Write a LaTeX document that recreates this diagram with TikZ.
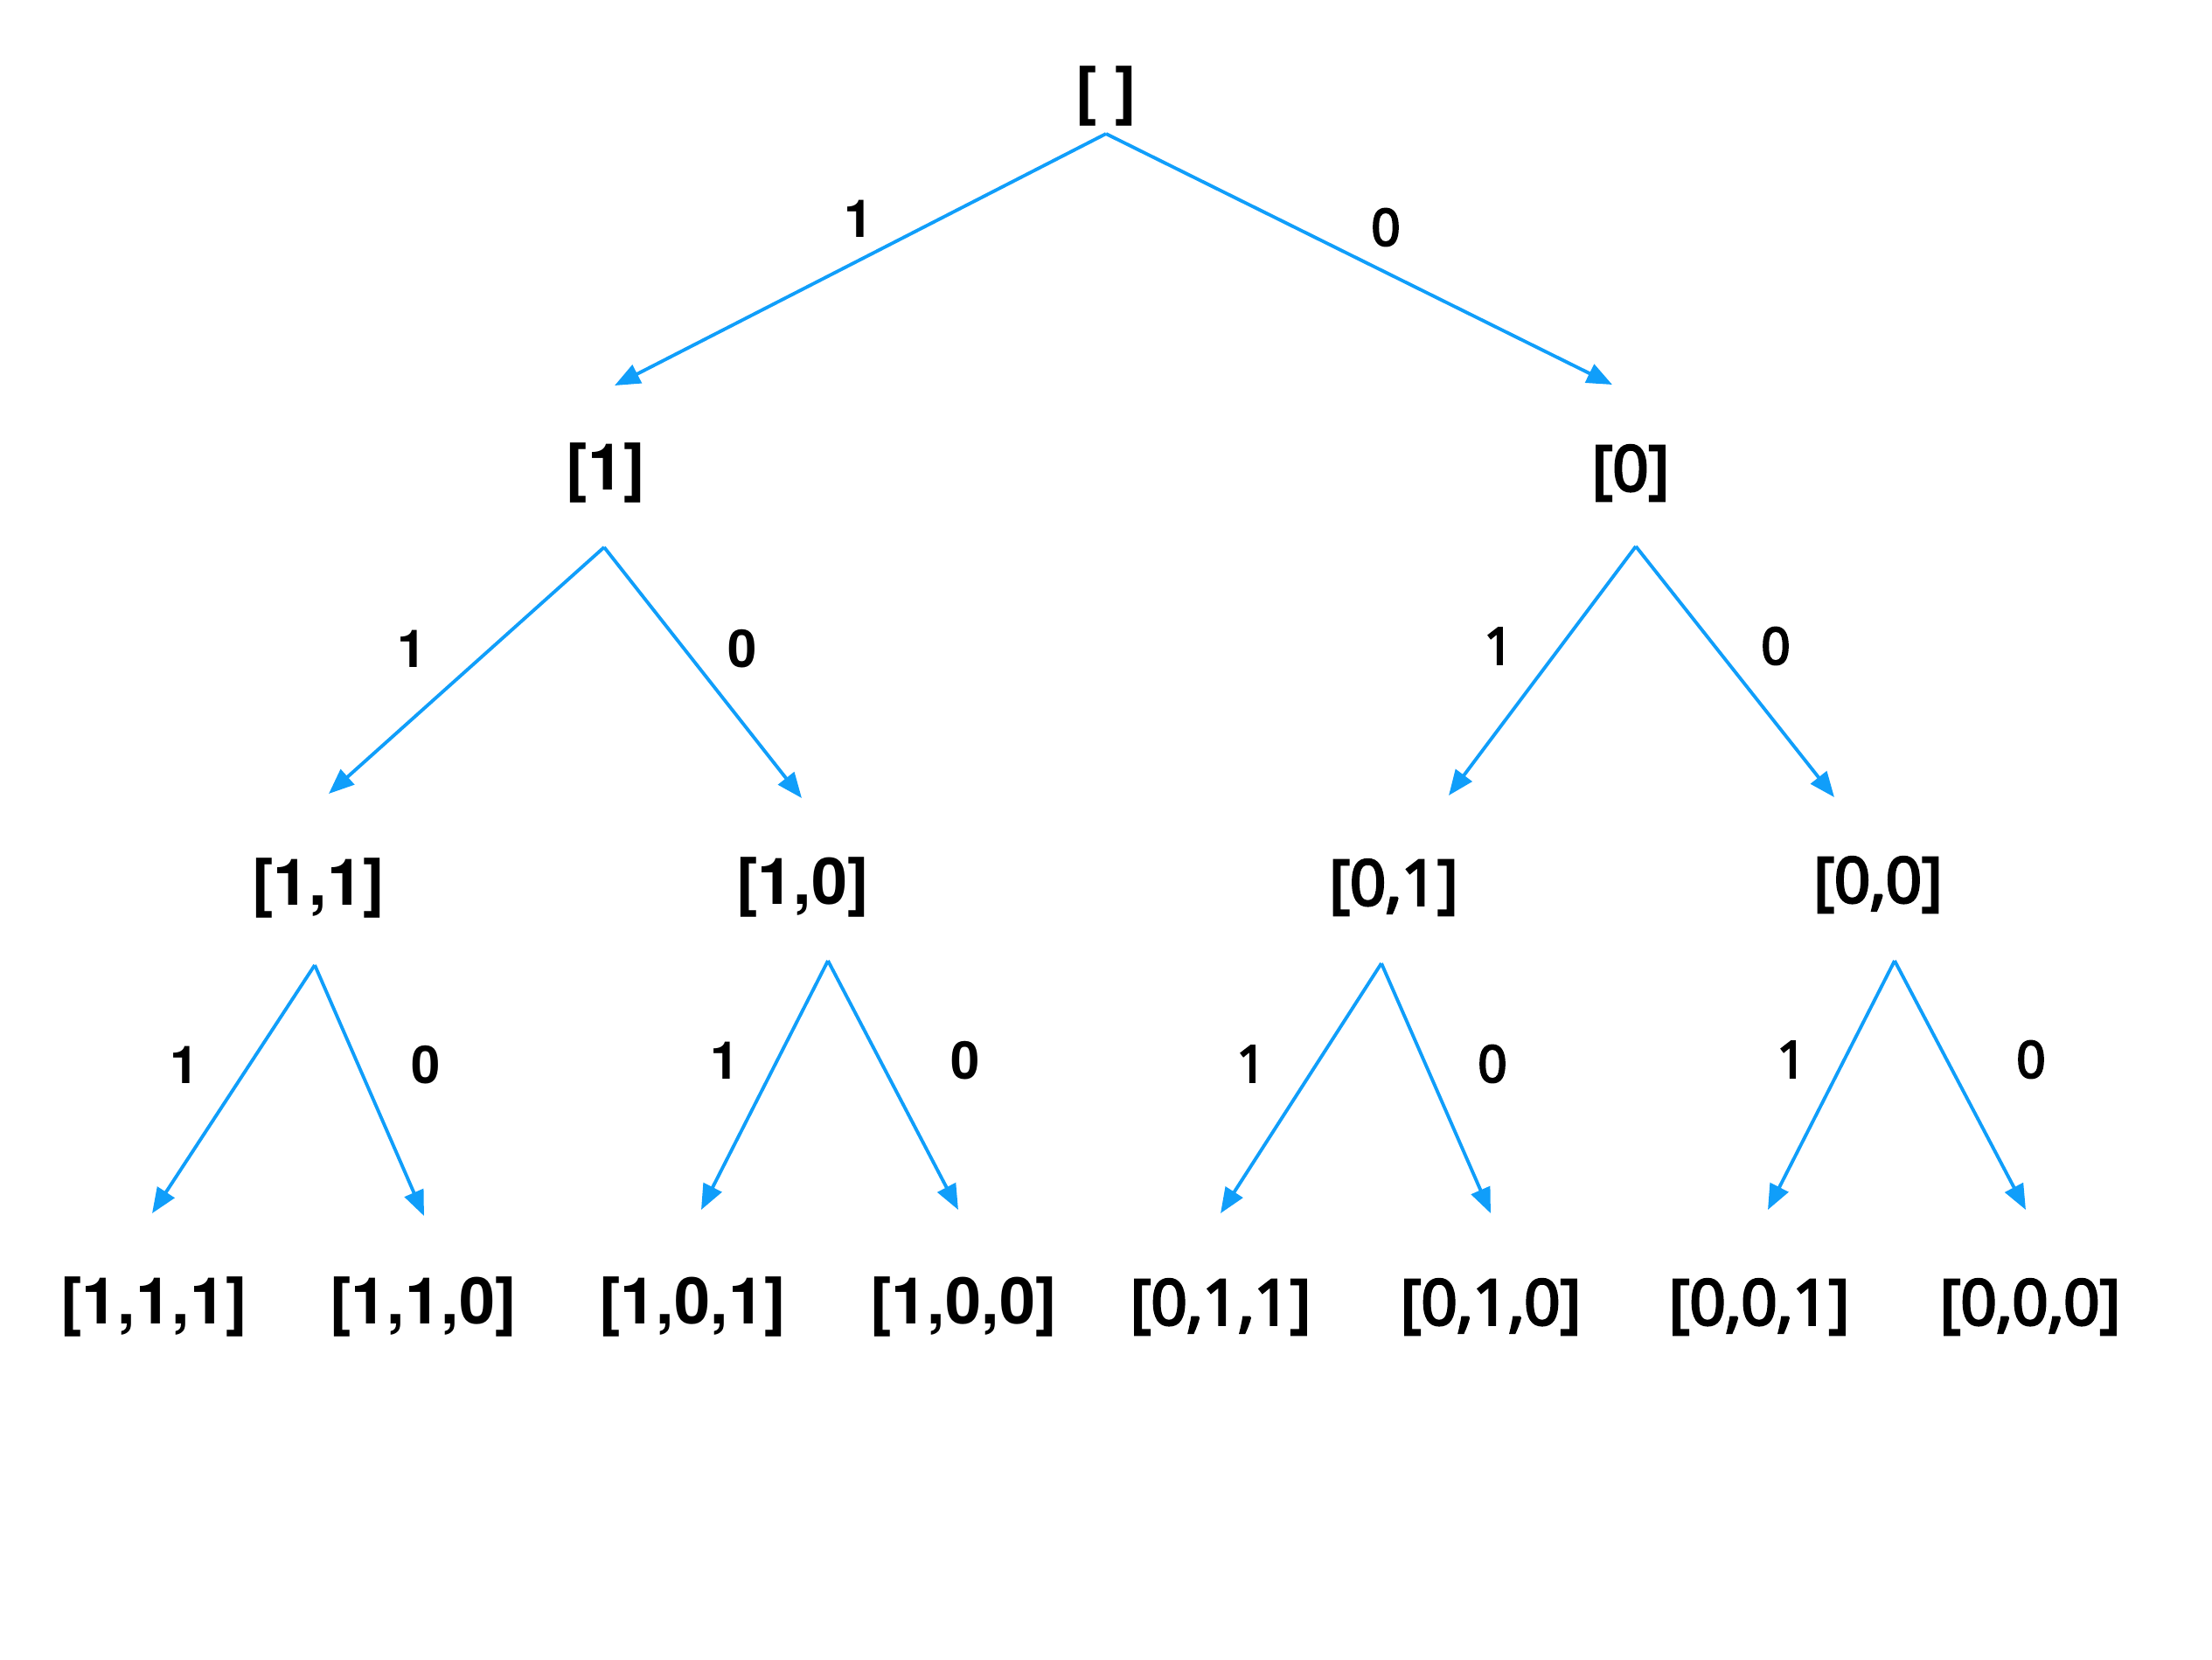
\documentclass[tikz,border=0pt]{standalone}
\usepackage{fontspec}
\setmainfont{TeX Gyre Heros}
\newfontfamily\heavyfont{TeX Gyre Heros}
\newfontfamily\lightfont{Open Sans}[UprightFeatures={FakeBold=4}]
\usetikzlibrary{arrows.meta}
\definecolor{edgeblue}{RGB}{16,158,250}
\begin{document}
\begin{tikzpicture}[
  list/.style={inner sep=0pt, font=\fontsize{21}{25}\selectfont\heavyfont\bfseries},
  listr/.style={inner sep=0pt, font=\fontsize{20.5}{25}\selectfont\lightfont},
  bit/.style={inner sep=0pt, font=\fontsize{17}{20}\selectfont\heavyfont\bfseries},
  bitr/.style={inner sep=0pt, font=\fontsize{16.5}{20}\selectfont\lightfont},
  edge/.style={draw=edgeblue, line width=1.1pt, line join=miter,
    -{Triangle[length=2.9mm, width=2.3mm]}}
]
\useasboundingbox (0,0) rectangle (25.30,-18.98);

% list nodes
\node[list]  (r)   at (12.65,-1.10) {[ ]};
\node[list]  (n1)  at (6.93,-5.41)  {[1]};
\node[listr] (n0)  at (18.65,-5.41) {[0]};
\node[list]  (n11) at (3.64,-10.16) {[1,1]};
\node[list]  (n10) at (9.18,-10.15) {[1,0]};
\node[listr] (n01) at (15.94,-10.15) {[0,1]};
\node[listr] (n00) at (21.48,-10.12) {[0,0]};
\node[list]  (n111) at (1.76,-14.95)  {[1,1,1]};
\node[list]  (n110) at (4.84,-14.95)  {[1,1,0]};
\node[list]  (n101) at (7.92,-14.95)  {[1,0,1]};
\node[list]  (n100) at (11.02,-14.95) {[1,0,0]};
\node[listr] (n011) at (13.96,-14.95) {[0,1,1]};
\node[listr] (n010) at (17.05,-14.95) {[0,1,0]};
\node[listr] (n001) at (20.12,-14.95) {[0,0,1]};
\node[listr] (n000) at (23.22,-14.95) {[0,0,0]};

% branching points under each list
\coordinate (r-o)   at (12.65,-1.53);
\coordinate (n1-o)  at (6.91,-6.26);
\coordinate (n0-o)  at (18.71,-6.25);
\coordinate (n11-o) at (3.60,-11.04);
\coordinate (n10-o) at (9.47,-10.99);
\coordinate (n01-o) at (15.80,-11.02);
\coordinate (n00-o) at (21.67,-10.99);

% arrow tips above each child
\coordinate (n1-i)   at (7.03,-4.41);
\coordinate (n0-i)   at (18.44,-4.40);
\coordinate (n11-i)  at (3.76,-9.08);
\coordinate (n10-i)  at (9.17,-9.13);
\coordinate (n01-i)  at (16.57,-9.10);
\coordinate (n00-i)  at (20.98,-9.12);
\coordinate (n111-i) at (1.74,-13.88);
\coordinate (n110-i) at (4.85,-13.91);
\coordinate (n101-i) at (8.02,-13.84);
\coordinate (n100-i) at (10.96,-13.84);
\coordinate (n011-i) at (13.96,-13.88);
\coordinate (n010-i) at (17.05,-13.88);
\coordinate (n001-i) at (20.22,-13.84);
\coordinate (n000-i) at (23.17,-13.84);

% connectors
\draw[edge] (r-o) -- (n1-i);
\draw[edge] (r-o) -- (n0-i);
\draw[edge] (n1-o) -- (n11-i);
\draw[edge] (n1-o) -- (n10-i);
\draw[edge] (n0-o) -- (n01-i);
\draw[edge] (n0-o) -- (n00-i);
\draw[edge] (n11-o) -- (n111-i);
\draw[edge] (n11-o) -- (n110-i);
\draw[edge] (n10-o) -- (n101-i);
\draw[edge] (n10-o) -- (n100-i);
\draw[edge] (n01-o) -- (n011-i);
\draw[edge] (n01-o) -- (n010-i);
\draw[edge] (n00-o) -- (n001-i);
\draw[edge] (n00-o) -- (n000-i);

% edge labels
\node[bit]  (l-r1)   at (9.82,-2.50)  {1};
\node[bitr] (l-r0)   at (15.85,-2.60) {0};
\node[bit]  (l-n11)  at (4.71,-7.42)  {1};
\node[bit]  (l-n10)  at (8.49,-7.42)  {0};
\node[bitr] (l-n01)  at (17.14,-7.39) {1};
\node[bitr] (l-n00)  at (20.31,-7.39) {0};
\node[bit]  (l-n111) at (2.11,-12.18) {1};
\node[bit]  (l-n110) at (4.87,-12.18) {0};
\node[bit]  (l-n101) at (8.29,-12.13) {1};
\node[bit]  (l-n100) at (11.04,-12.13) {0};
\node[bitr] (l-n011) at (14.31,-12.17) {1};
\node[bitr] (l-n010) at (17.07,-12.17) {0};
\node[bitr] (l-n001) at (20.49,-12.12) {1};
\node[bitr] (l-n000) at (23.23,-12.12) {0};
\end{tikzpicture}
\end{document}
